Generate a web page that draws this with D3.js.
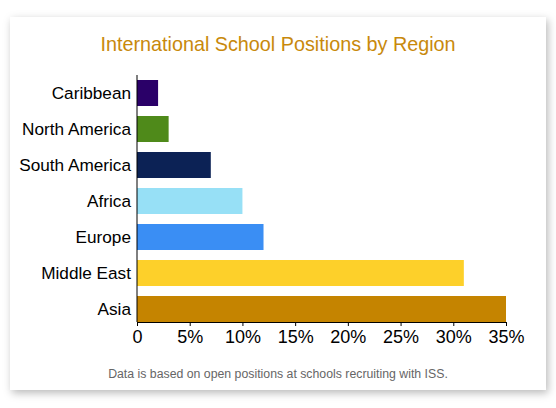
<!DOCTYPE html>
<html>
<head>
<meta charset="utf-8">
<script src="https://cdn.jsdelivr.net/npm/d3@7"></script>
<style>
  body { margin: 0; background: #fff; }
  svg { display: block; font-family: "Liberation Sans", Arial, Helvetica, sans-serif; }
</style>
</head>
<body>
<div id="chart"></div>
<script>
// chart data
const regions = ["Caribbean", "North America", "South America", "Africa", "Europe", "Middle East", "Asia"]
const shares  = [2, 3, 7, 10, 12, 31, 35]
const colors  = ["#2a0068", "#4f8a1a", "#0c2255", "#97e0f6", "#3a8ef4", "#fdd02a", "#c58400"]
const tickValues = [0, 5, 10, 15, 20, 25, 30, 35]

const width = 556, height = 408

let svg = d3.select("#chart").append("svg")
            .attr("width", width).attr("height", height)

// soft shadow for the card
let defs = svg.append("defs")
let filter = defs.append("filter").attr("id", "shadow")
    .attr("x", "-5%").attr("y", "-5%").attr("width", "110%").attr("height", "115%")
filter.append("feDropShadow")
    .attr("dx", 2).attr("dy", 3).attr("stdDeviation", 4)
    .attr("flood-color", "#000").attr("flood-opacity", 0.28)

svg.append("rect")
    .attr("x", 10).attr("y", 17)
    .attr("width", 536).attr("height", 373)
    .attr("fill", "#fff")
    .attr("filter", "url(#shadow)")

// title
svg.append("text")
    .attr("x", 278).attr("y", 51)
    .attr("text-anchor", "middle")
    .attr("fill", "#c8890c")
    .style("font-size", "19.8px")
    .text("International School Positions by Region")

// scales
let x = d3.scaleLinear().domain([0, 35]).range([137, 506])
let y = d3.scaleBand().domain(regions).range([80, 322]).paddingInner(10 / 36).paddingOuter(0)

let data = regions.map((r, i) => ({region: r, value: shares[i], color: colors[i]}))

// bars
svg.selectAll(".bar")
    .data(data)
    .enter()
    .append("rect")
    .attr("class", "bar")
    .attr("x", x(0))
    .attr("y", d => y(d.region))
    .attr("width", d => x(d.value) - x(0))
    .attr("height", y.bandwidth())
    .attr("fill", d => d.color)

// category axis
let yAxis = svg.append("g")
    .attr("transform", `translate(${x(0)},0)`)
    .call(d3.axisLeft(y).tickSize(0).tickPadding(6))
yAxis.select(".domain").remove()
yAxis.selectAll("text")
    .attr("fill", "#000")
    .style("font-size", "17.2px")
    .style("font-family", "'Liberation Sans', Arial, sans-serif")

// vertical axis line, a touch above the first bar
svg.append("line")
    .attr("x1", x(0)).attr("x2", x(0))
    .attr("y1", y.range()[0] - 5).attr("y2", y.range()[1])
    .attr("stroke", "#000").attr("stroke-width", 1)

// value axis
let xAxis = svg.append("g")
    .attr("transform", `translate(0,${y.range()[1]})`)
    .call(d3.axisBottom(x)
        .tickValues(tickValues)
        .tickFormat(d => d === 0 ? "0" : d + "%")
        .tickSize(4).tickSizeOuter(0).tickPadding(4))
xAxis.select(".domain").attr("stroke", "#000")
xAxis.selectAll(".tick line").attr("stroke", "#000")
xAxis.selectAll("text")
    .attr("fill", "#000")
    .style("font-size", "18px")
    .style("font-family", "'Liberation Sans', Arial, sans-serif")

// footnote
svg.append("text")
    .attr("x", 278).attr("y", 378)
    .attr("text-anchor", "middle")
    .attr("fill", "#666")
    .style("font-size", "12.3px")
    .text("Data is based on open positions at schools recruiting with ISS.")
</script>
</body>
</html>
